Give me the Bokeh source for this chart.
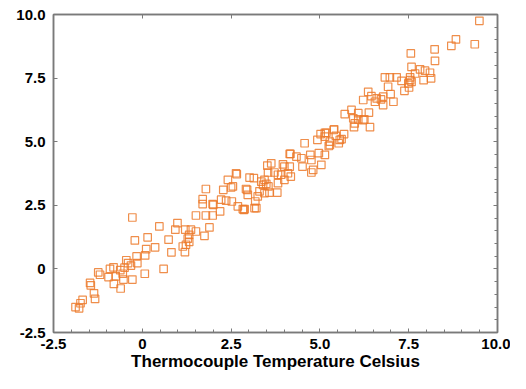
from bokeh.plotting import figure
from bokeh.models import LinearAxis, FixedTicker, Range1d, ColumnDataSource
from bokeh.embed import file_html
from bokeh.resources import INLINE

# Thermocouple temperature (x) vs. measured value (y)
thermo_x = [
    -1.88, -1.78, -1.74, -1.68, -1.36, -1.33, -1.47, -1.45, -1.24, -1.19,
    -0.95, -0.91, -0.81, -0.75, -0.55, -0.53, -0.80, -0.61, -0.28, -0.45,
    -0.40, -0.32, -0.14, -0.16, 0.08, 0.07, 0.60, -0.28, -0.21, 0.15,
    0.11, 0.36, 0.48, -0.62, -0.50,
    0.74, 0.82, 0.93, 0.99, 1.21, 1.37, 1.32, 1.28, 1.32, 1.14,
    1.20, 1.51, 1.51, 1.79, 1.98, 1.89, 1.75, 1.70, 1.70, 1.98,
    1.79, 2.22, 2.36, 2.52, 2.69, 2.83, 2.19, 2.28, 2.50, 2.41,
    2.66, 3.02, 2.95, 2.97, 1.23, 2.00, 2.55, 2.86, 3.16,
    3.30, 3.44, 3.55, 3.44, 3.63, 3.82, 4.00, 4.17, 4.00, 3.82,
    5.39, 5.14, 5.02, 5.45, 5.56, 5.28, 4.93, 4.57, 4.15, 4.34,
    4.48, 4.73, 4.97, 4.76, 5.04, 4.81, 4.76, 4.51, 4.15, 3.96,
    3.52, 3.54, 3.72, 3.91, 4.10, 4.18, 3.35, 3.40, 3.49, 3.58,
    3.80, 3.14, 2.92, 2.64, 3.25, 3.18, 3.21, 2.88,
    6.83, 6.97, 7.16, 7.30, 7.54, 7.58, 7.51, 7.38, 6.92, 6.99,
    6.78, 6.36, 6.45, 6.60, 6.72, 7.07, 6.78, 6.55, 6.22, 6.38,
    5.89, 5.70, 5.94, 6.08, 6.25, 5.98, 5.96, 6.41, 5.40, 5.18,
    5.14, 5.68, 5.61, 5.28, 5.53, 5.25, 5.14, 6.08, 6.22,
    9.49, 9.36, 8.83, 8.70, 8.23, 8.24, 7.56, 7.58, 7.82, 7.96,
    7.68, 8.10, 8.13, 7.92, 7.54, 7.49,
]
reading_y = [
    -1.50, -1.55, -1.35, -1.22, -0.96, -1.18, -0.55, -0.65, -0.14, -0.23,
    -0.32, 0.00, 0.06, -0.29, -0.19, -0.42, -0.59, -0.77, -0.42, 0.34,
    0.23, 0.13, 0.23, 0.49, 0.53, -0.19, 0.00, 2.02, 1.12, 1.24,
    0.78, 0.85, 1.67, -0.05, 0.05,
    1.15, 0.65, 1.54, 1.80, 1.54, 1.54, 1.34, 1.19, 1.06, 0.88,
    0.66, 1.47, 2.10, 2.10, 2.10, 1.63, 1.30, 2.74, 2.55, 2.55,
    3.14, 2.72, 2.68, 2.65, 2.46, 2.35, 2.26, 3.11, 3.20, 3.50,
    3.72, 3.59, 3.11, 2.91, 0.95, 2.52, 3.24, 2.32, 2.39,
    3.05, 2.98, 3.24, 3.50, 4.15, 3.70, 4.02, 4.52, 3.50, 3.37,
    5.46, 5.35, 5.30, 5.23, 5.07, 4.87, 5.07, 4.94, 4.52, 4.41,
    4.35, 4.48, 4.55, 4.28, 4.09, 3.89, 3.79, 4.02, 4.02, 4.11,
    4.06, 3.79, 3.79, 3.70, 3.76, 3.63, 3.43, 3.30, 3.34, 3.00,
    3.00, 3.57, 3.14, 3.76, 2.85, 2.65, 2.39, 2.35,
    7.53, 7.53, 7.53, 7.39, 7.53, 7.35, 7.13, 7.00, 7.16, 6.87,
    6.77, 6.96, 6.79, 6.70, 6.66, 6.57, 6.44, 6.57, 6.64, 6.14,
    6.25, 6.08, 5.92, 5.88, 5.88, 5.72, 5.57, 5.57, 5.49, 5.35,
    5.20, 5.30, 5.10, 5.00, 4.94, 4.83, 4.48, 6.12, 5.85,
    9.75, 8.83, 9.02, 8.77, 8.63, 8.18, 8.47, 7.94, 7.84, 7.79,
    7.68, 7.71, 7.49, 7.42, 7.42, 7.29,
]

x_ticks = [-2.5, 0.0, 2.5, 5.0, 7.5, 10.0]
x_tick_labels = ["-2.5", "0", "2.5", "5.0", "7.5", "10.0"]
y_ticks = [-2.5, 0.0, 2.5, 5.0, 7.5, 10.0]
y_tick_labels = ["-2.5", "0", "2.5", "5.0", "7.5", "10.0"]
x_title = "Thermocouple Temperature Celsius"

FONT = "Liberation Sans"
GREY = "#7a7a7a"
ORANGE = "#ec7a2c"

src = ColumnDataSource(data=dict(x=thermo_x, y=reading_y))

p = figure(
    width=510, height=373,
    x_range=Range1d(-2.5, 10.0), y_range=Range1d(-2.5, 10.0),
    output_backend="svg", toolbar_location=None,
    min_border_left=53, min_border_top=14, min_border_right=13, min_border_bottom=40,
    background_fill_color="white", border_fill_color="white",
)
p.grid.visible = False
p.outline_line_color = GREY
p.outline_line_width = 1.5

minor = [-2.5 + 0.5 * i for i in range(26)]

xa = p.xaxis[0]
xa.ticker = FixedTicker(ticks=x_ticks, minor_ticks=minor)
xa.major_label_overrides = {t: l for t, l in zip(x_ticks, x_tick_labels)}
ya = p.yaxis[0]
ya.ticker = FixedTicker(ticks=y_ticks)
ya.major_label_overrides = {t: l for t, l in zip(y_ticks, y_tick_labels)}

for ax in (xa, ya):
    ax.axis_line_color = GREY
    ax.axis_line_width = 1.5
    ax.major_tick_in = 4
    ax.major_tick_out = 0
    ax.minor_tick_in = 3
    ax.minor_tick_out = 0
    ax.major_tick_line_color = GREY
    ax.minor_tick_line_color = GREY
    ax.major_label_text_font = FONT
    ax.major_label_text_font_style = "bold"
    ax.major_label_text_font_size = "15px"
    ax.major_label_text_color = "black"

ya.major_label_standoff = 8
xa.major_label_standoff = 6
xa.axis_label = x_title
xa.axis_label_text_font = FONT
xa.axis_label_text_font_style = "bold"
xa.axis_label_text_font_size = "17px"
xa.axis_label_text_color = "black"
xa.axis_label_standoff = 0

# tick-only axes on the right and top
right = LinearAxis(ticker=FixedTicker(ticks=y_ticks, minor_ticks=minor),
                   major_label_overrides={t: "" for t in y_ticks})
top = LinearAxis(ticker=FixedTicker(ticks=x_ticks),
                 major_label_overrides={t: "" for t in x_ticks})
for ax in (right, top):
    ax.axis_line_color = GREY
    ax.axis_line_width = 1.5
    ax.major_tick_in = 4
    ax.major_tick_out = 0
    ax.minor_tick_in = 3
    ax.minor_tick_out = 0
    ax.major_tick_line_color = GREY
    ax.minor_tick_line_color = GREY
    ax.major_label_standoff = 0
p.add_layout(right, "right")
p.add_layout(top, "above")

p.scatter("x", "y", source=src, marker="square", size=7.5,
          fill_color=None, line_color=ORANGE, line_width=1.2, line_alpha=0.85)

open("out.html", "w").write(file_html(p, INLINE))
